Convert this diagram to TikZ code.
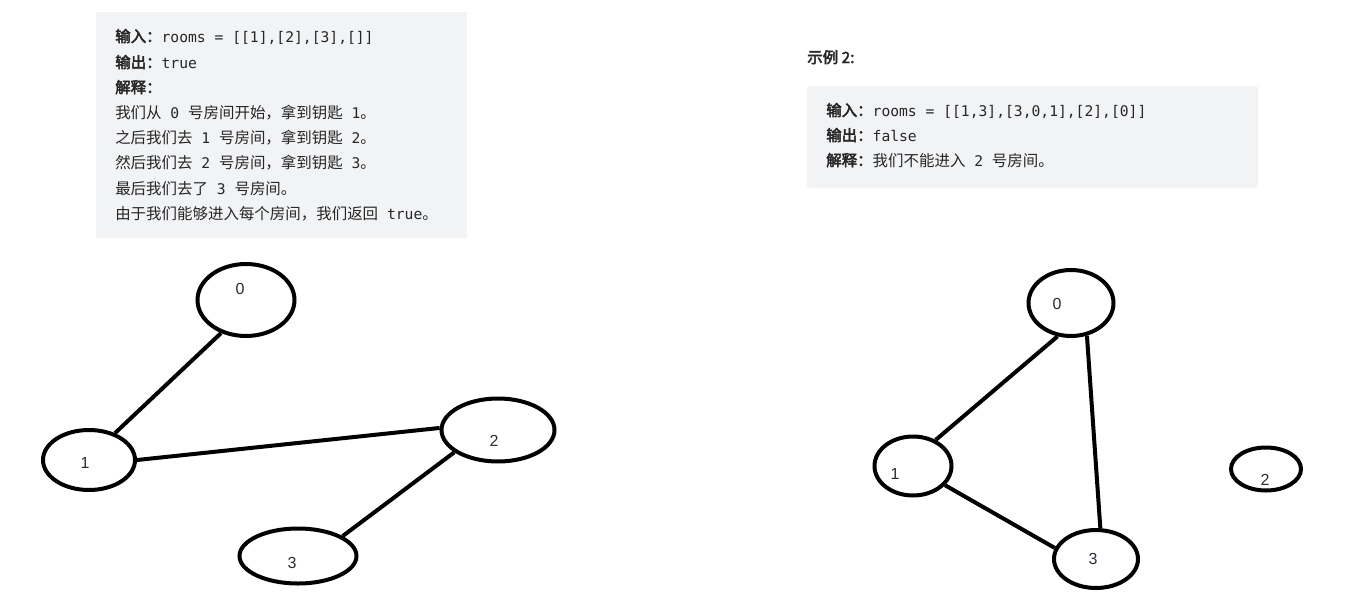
\documentclass[tikz,border=0pt]{standalone}
\usepackage{fontspec}
\usetikzlibrary{shapes.geometric}
\setmainfont{Liberation Sans}
\newfontfamily\cjk[AutoFakeBold=2.5]{Noto Sans CJK SC}
\newfontfamily\cjkbold[FakeBold=3]{Noto Sans CJK SC}
\newfontfamily\codefont{DejaVu Sans Mono}
\newcommand{\cd}[1]{{\codefont\fontsize{11pt}{13pt}\selectfont #1}}
\newcommand{\hb}[1]{{\cjkbold #1}}
\definecolor{boxbg}{HTML}{F2F3F5}
\definecolor{txt}{HTML}{262626}
\definecolor{lbl}{HTML}{2B2B3A}
\begin{document}
\begin{tikzpicture}[x=0.75pt,y=-0.75pt,
  room/.style={ellipse, draw=black, line width=3pt, inner sep=0pt},
  edge/.style={line width=3pt, draw=black},
  lab/.style={font=\fontsize{12pt}{14pt}\selectfont, text=lbl, inner sep=0pt},
  tl/.style={anchor=base west, inner sep=0pt, text=txt, font=\cjk\fontsize{11.6pt}{13pt}\selectfont}]
\useasboundingbox (0,0) rectangle (1368,607);
% boxes
\fill[boxbg] (96,12) rectangle (467,238);
\fill[boxbg, rounded corners=2pt] (807,86) rectangle (1258,188);
% left text
\node[tl] (a1) at (115,42) {\hb{输入：}\cd{rooms = [[1],[2],[3],[]]}};
\node[tl] (a2) at (115,68) {\hb{输出：}\cd{true}};
\node[tl] (a3) at (115,93) {\hb{解释：}};
\node[tl] (a4) at (115,118) {我们从\cd{\ 0\ }号房间开始，拿到钥匙\cd{\ 1}。};
\node[tl] (a5) at (115,143) {之后我们去\cd{\ 1\ }号房间，拿到钥匙\cd{\ 2}。};
\node[tl] (a6) at (115,168) {然后我们去\cd{\ 2\ }号房间，拿到钥匙\cd{\ 3}。};
\node[tl] (a7) at (115,194) {最后我们去了\cd{\ 3\ }号房间。};
\node[tl] (a8) at (115,219) {由于我们能够进入每个房间，我们返回\cd{\ true}。};
% right text
\node[tl] (h2) at (807,63) {\hb{示例}{\bfseries\ 2:}};
\node[tl] (b1) at (826,116) {\hb{输入：}\cd{rooms = [[1,3],[3,0,1],[2],[0]]}};
\node[tl] (b2) at (826,141) {\hb{输出：}\cd{false}};
\node[tl] (b3) at (826,166) {\hb{解释：}我们不能进入\cd{\ 2\ }号房间。};
% left graph
\node[room, minimum width=72.75pt, minimum height=54pt,
  label={[lab,xshift=-4.5pt,yshift=8.25pt]center:0}] (L0) at (246,300) {};
\node[room, minimum width=69pt, minimum height=45pt,
  label={[lab,xshift=-3pt,yshift=-2.25pt]center:1}] (L1) at (89,460) {};
\node[room, minimum width=84.75pt, minimum height=47.25pt,
  label={[lab,xshift=-3pt,yshift=-8.25pt]center:2}] (L2) at (498,430) {};
\node[room, minimum width=87.75pt, minimum height=41.25pt,
  label={[lab,xshift=-4.5pt,yshift=-5.25pt]center:3}] (L3) at (298,556) {};
\draw[edge] (L0.233) -- (L1.46);
\draw[edge] (L1.0) -- (L2.178);
\draw[edge] (L2.207) -- (L3.24);
% right graph
\node[room, minimum width=63.75pt, minimum height=49.5pt,
  label={[lab,xshift=-10.5pt,yshift=-0.75pt]center:0}] (R0) at (1071,303) {};
\node[room, minimum width=57.75pt, minimum height=44.25pt,
  label={[lab,xshift=-13.5pt,yshift=-6pt]center:1}] (R1) at (913,466) {};
\node[room, minimum width=52.5pt, minimum height=32.25pt,
  label={[lab,xshift=-0.75pt,yshift=-8.25pt]center:2}] (R2) at (1266,469) {};
\node[room, minimum width=63pt, minimum height=43.5pt,
  label={[lab,xshift=-2.25pt,yshift=0pt]center:3}] (R3) at (1096,559) {};
\draw[edge] (R0.248) -- (R1.49);
\draw[edge] (R0.296) -- (R3.82);
\draw[edge] (R1.329) -- (R3.165);
\end{tikzpicture}
\end{document}
